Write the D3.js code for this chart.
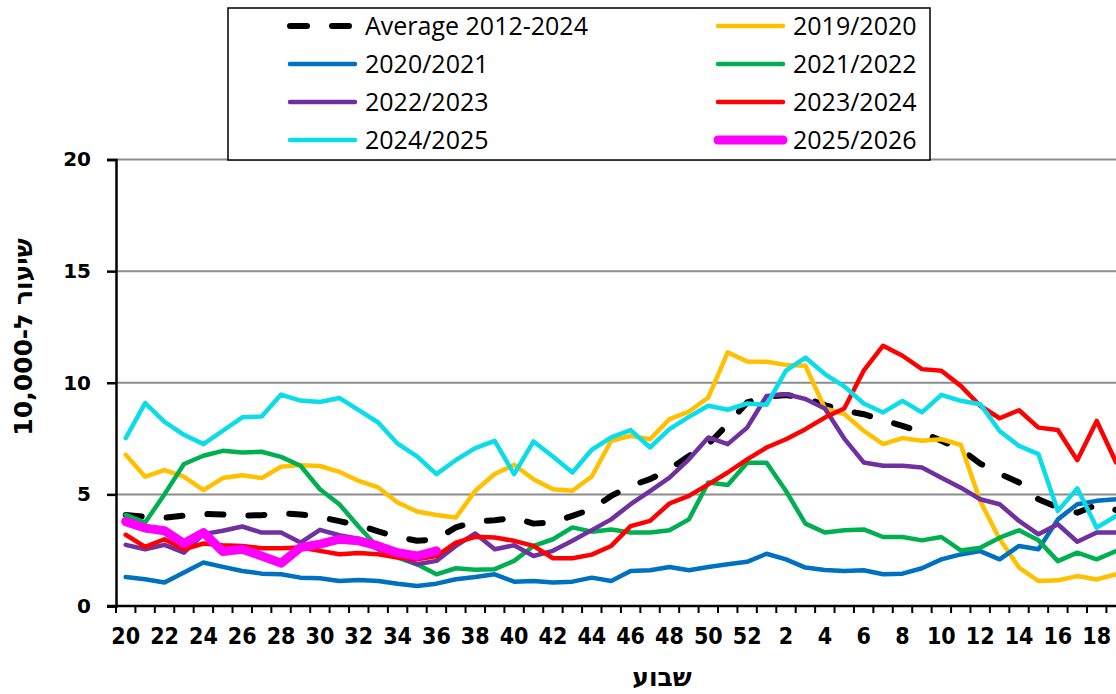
<!DOCTYPE html>
<html>
<head>
<meta charset="utf-8">
<script src="https://cdn.jsdelivr.net/npm/d3@7"></script>
<style>
  body { margin: 0; background: #fff; }
</style>
</head>
<body>
<div id="chart"></div>
<script>
// Weeks on the x axis (season runs week 20 -> week 19)
var weeks = [20,21,22,23,24,25,26,27,28,29,30,31,32,33,34,35,36,37,38,39,40,41,42,43,44,45,46,47,48,49,50,51,52,
  1,2,3,4,5,6,7,8,9,10,11,12,13,14,15,16,17,18,19];

var yTicks = [0, 5, 10, 15, 20];

var avg = [4.08,4.0,3.95,4.05,4.12,4.1,4.05,4.07,4.15,4.1,3.99,3.8,3.62,3.34,3.1,2.92,2.99,3.52,3.78,3.84,3.96,3.69,3.74,4.04,4.34,4.93,5.38,5.68,6.13,6.72,7.25,8.14,9.12,9.37,9.45,9.31,9.0,8.75,8.59,8.32,8.07,7.77,7.4,7.02,6.38,5.93,5.53,4.78,4.41,4.18,4.53,4.3];
var s2019 = [6.77,5.79,6.09,5.79,5.19,5.73,5.86,5.73,6.24,6.31,6.27,6.01,5.6,5.31,4.64,4.23,4.08,3.96,5.16,5.91,6.33,5.68,5.23,5.16,5.8,7.4,7.62,7.47,8.37,8.71,9.34,11.36,10.95,10.94,10.8,10.76,8.85,8.6,7.85,7.25,7.52,7.4,7.47,7.22,4.7,3.0,1.72,1.12,1.15,1.34,1.19,1.42];
var s2020 = [1.3,1.2,1.05,1.5,1.95,1.75,1.57,1.45,1.42,1.27,1.24,1.12,1.17,1.12,1.0,0.9,1.0,1.2,1.3,1.42,1.09,1.12,1.05,1.09,1.27,1.12,1.57,1.6,1.75,1.6,1.75,1.87,1.98,2.34,2.09,1.72,1.61,1.57,1.6,1.42,1.45,1.69,2.09,2.31,2.46,2.09,2.69,2.54,3.88,4.56,4.71,4.78];
var s2021 = [4.08,3.74,5.01,6.36,6.73,6.95,6.88,6.91,6.68,6.28,5.23,4.56,3.55,2.62,2.17,1.87,1.42,1.69,1.62,1.65,2.02,2.69,2.99,3.52,3.33,3.43,3.29,3.29,3.39,3.88,5.53,5.42,6.42,6.42,5.15,3.69,3.29,3.39,3.43,3.09,3.09,2.94,3.09,2.49,2.61,3.06,3.39,2.94,2.01,2.39,2.09,2.46];
var s2022 = [2.74,2.54,2.74,2.39,3.22,3.37,3.56,3.29,3.29,2.84,3.41,3.17,3.0,2.54,2.24,1.87,2.02,2.69,3.25,2.54,2.72,2.24,2.47,2.92,3.4,3.88,4.56,5.15,5.75,6.57,7.55,7.25,7.99,9.41,9.49,9.27,8.85,7.5,6.43,6.28,6.28,6.2,5.75,5.3,4.78,4.56,3.81,3.21,3.66,2.88,3.29,3.29];
var s2023 = [3.19,2.65,2.99,2.54,2.8,2.72,2.69,2.59,2.59,2.62,2.47,2.32,2.37,2.32,2.17,2.09,2.24,2.84,3.1,3.07,2.92,2.69,2.14,2.14,2.3,2.69,3.58,3.81,4.59,4.93,5.45,5.98,6.57,7.1,7.47,7.92,8.44,8.85,10.54,11.66,11.21,10.61,10.54,9.86,8.97,8.41,8.77,7.99,7.88,6.53,8.29,6.43];
var s2024 = [7.52,9.09,8.25,7.67,7.25,7.85,8.45,8.49,9.47,9.2,9.14,9.32,8.77,8.22,7.27,6.7,5.91,6.54,7.07,7.4,5.91,7.37,6.7,5.98,7.0,7.55,7.88,7.1,7.92,8.47,8.97,8.79,9.07,9.01,10.54,11.13,10.39,9.84,9.07,8.67,9.19,8.67,9.46,9.19,9.04,7.84,7.17,6.8,4.26,5.27,3.51,4.03];
var s2025 = [3.78,3.49,3.37,2.8,3.29,2.44,2.54,2.24,1.92,2.62,2.77,2.99,2.92,2.69,2.39,2.24,2.47];

var seriesNames = ["Average 2012-2024", "2019/2020", "2020/2021", "2021/2022", "2022/2023", "2023/2024", "2024/2025", "2025/2026"];
var seriesValues = [avg, s2019, s2020, s2021, s2022, s2023, s2024, s2025];
var seriesColors = ["#000000", "#FFC000", "#0070C0", "#00B050", "#7030A0", "#FF0000", "#0ADDE8", "#FF00FF"];

var width = 1116, height = 694;

var svg = d3.select("#chart")
  .append("svg")
  .attr("width", width)
  .attr("height", height)
  .style("display", "block");

// Scales - plot area runs past the right edge of the picture
var step = 19.42;
var x = d3.scaleBand()
  .domain(d3.range(weeks.length))
  .range([116, 116 + step * weeks.length]);

var y = d3.scaleLinear()
  .domain([0, 20])
  .range([606, 159.5]);

var cx = function(i) { return x(i) + x.bandwidth() / 2; };

// Horizontal gridlines
svg.append("g").attr("class", "grid")
  .selectAll("line")
  .data(yTicks.filter(function(t) { return t > 0; }))
  .enter().append("line")
  .attr("x1", 116)
  .attr("x2", width)
  .attr("y1", function(d) { return y(d); })
  .attr("y2", function(d) { return y(d); })
  .attr("stroke", "#8c8c8c")
  .attr("stroke-width", 2);

// Lines
var line = d3.line()
  .x(function(d, i) { return cx(i); })
  .y(function(d) { return y(d); });

seriesValues.forEach(function(vals, k) {
  var path = svg.append("path")
    .datum(vals)
    .attr("d", line)
    .attr("fill", "none")
    .attr("stroke", seriesColors[k])
    .attr("stroke-linejoin", "round")
    .attr("stroke-linecap", "round")
    .attr("stroke-width", k === 7 ? 9 : 4.5);
  if (k === 0) {
    path.attr("stroke-width", 6).attr("stroke-dasharray", "16,25");
  }
});

// Y axis
var yAxis = svg.append("g")
  .attr("class", "yaxis")
  .attr("transform", "translate(116,0)")
  .call(d3.axisLeft(y).tickValues(yTicks).tickSize(9).tickPadding(16));

yAxis.select(".domain").attr("stroke", "#000").attr("stroke-width", 2.5);
yAxis.selectAll(".tick line").attr("stroke", "#000").attr("stroke-width", 2.5);
yAxis.selectAll("text")
  .attr("font-family", "DejaVu Sans, Verdana, sans-serif")
  .attr("font-weight", "bold")
  .attr("font-size", 20)
  .attr("fill", "#000");

// X axis line and ticks on the category edges
svg.append("line")
  .attr("x1", 107).attr("x2", width)
  .attr("y1", y(0)).attr("y2", y(0))
  .attr("stroke", "#000").attr("stroke-width", 2.5);

svg.append("g").attr("class", "xticks")
  .selectAll("line")
  .data(d3.range(weeks.length + 1))
  .enter().append("line")
  .attr("x1", function(k) { return 116 + k * step; })
  .attr("x2", function(k) { return 116 + k * step; })
  .attr("y1", y(0))
  .attr("y2", y(0) + 7)
  .attr("stroke", "#000")
  .attr("stroke-width", 2);

// X tick labels - every second week
svg.append("g").attr("class", "xlabels")
  .selectAll("text")
  .data(d3.range(0, weeks.length, 2))
  .enter().append("text")
  .attr("x", function(i) { return cx(i); })
  .attr("y", 644)
  .attr("text-anchor", "middle")
  .attr("font-family", "Liberation Sans Narrow, DejaVu Sans Condensed, sans-serif")
  .attr("font-weight", "bold")
  .attr("font-size", 23)
  .text(function(i) { return weeks[i]; });

// Axis titles
svg.append("text")
  .attr("transform", "translate(32,337) rotate(-90)")
  .attr("text-anchor", "middle")
  .attr("font-family", "DejaVu Sans, sans-serif")
  .attr("font-weight", "bold")
  .attr("font-size", 25)
  .text("שיעור ל-10,000");

svg.append("text")
  .attr("x", 662)
  .attr("y", 686)
  .attr("text-anchor", "middle")
  .attr("font-family", "DejaVu Sans, sans-serif")
  .attr("font-weight", "bold")
  .attr("font-size", 25)
  .text("שבוע");

// Legend
var legend = svg.append("g").attr("class", "legend");
legend.append("rect")
  .attr("x", 228).attr("y", 8)
  .attr("width", 702).attr("height", 152)
  .attr("fill", "#fff")
  .attr("stroke", "#000")
  .attr("stroke-width", 1.5);

var rowY = [26, 64, 102, 140];
var colX = [290, 718];

seriesNames.forEach(function(name, k) {
  var ly = rowY[Math.floor(k / 2)];
  var lx = colX[k % 2];
  var item = legend.append("line")
    .attr("x1", lx).attr("x2", lx + 65)
    .attr("y1", ly).attr("y2", ly)
    .attr("stroke", seriesColors[k])
    .attr("stroke-linecap", "round")
    .attr("stroke-width", k === 7 ? 9 : 4.5);
  if (k === 0) {
    item.attr("stroke-width", 6).attr("stroke-dasharray", "17,25");
  }
  legend.append("text")
    .attr("x", lx + 75)
    .attr("y", ly)
    .attr("dy", "0.36em")
    .attr("font-family", "Open Sans, sans-serif")
    .attr("font-size", 25)
    .attr("fill", "#000")
    .text(name);
});
</script>
</body>
</html>
